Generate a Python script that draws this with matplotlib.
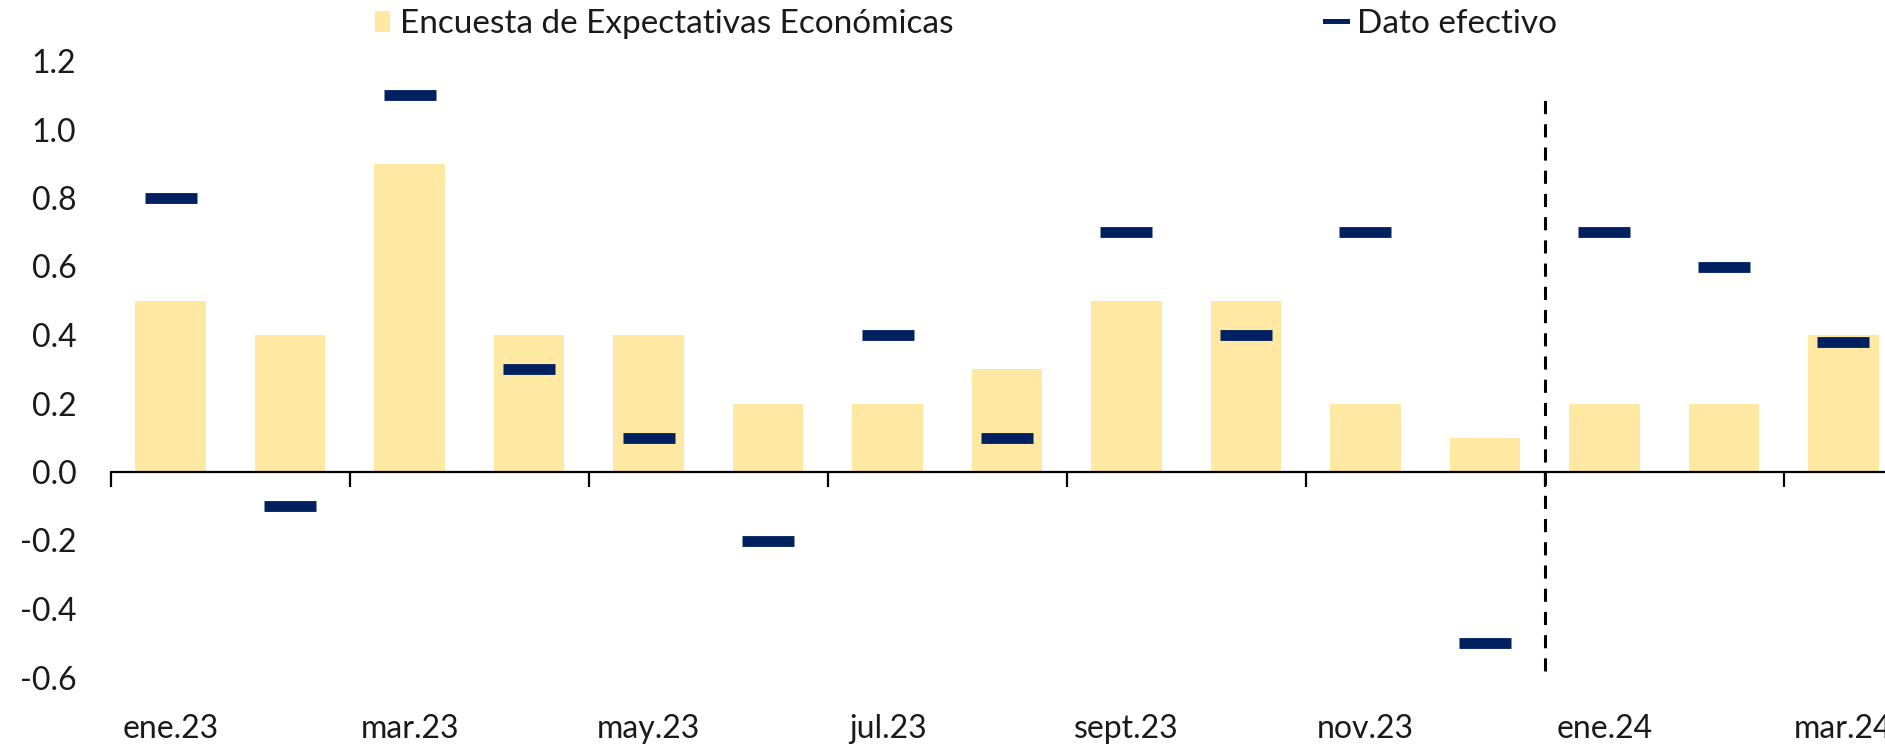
#!/usr/bin/env python3

import matplotlib
matplotlib.use("Agg")
import matplotlib.pyplot as plt
from matplotlib.lines import Line2D
from matplotlib.patches import Patch
import numpy as np

plt.rcParams['font.family'] = ['Lato', 'DejaVu Sans']

# Months (labels every second month on the axis)
months = ["ene.23", "feb.23", "mar.23", "abr.23", "may.23", "jun.23",
          "jul.23", "ago.23", "sept.23", "oct.23", "nov.23", "dic.23",
          "ene.24", "feb.24", "mar.24"]

# Survey expectation (bars)
encuesta = [0.5, 0.4, 0.9, 0.4, 0.4, 0.2, 0.2, 0.3, 0.5, 0.5, 0.2, 0.1, 0.2, 0.2, 0.4]

# Actual value (dash markers)
dato = [0.8, -0.1, 1.1, 0.3, 0.1, -0.2, 0.4, 0.1, 0.7, 0.4, 0.7, -0.5, 0.7, 0.6, 0.38]

# Vertical separator between 2023 and 2024
sep_pos = 11.5
sep_range = [-0.58, 1.09]

BAR_COLOR = "#FFE8A1"
DASH_COLOR = "#002060"
TEXT_COLOR = "#1a1a1a"

W, H, DPI = 1885, 745, 100
fig = plt.figure(figsize=(W / DPI, H / DPI), dpi=DPI)

# axes spans past the right edge, like the clipped original
left_px, right_px = 111, 1903
top_px, bottom_px = 61, 677.5
ax = fig.add_axes([left_px / W, 1 - bottom_px / H,
                   (right_px - left_px) / W, (bottom_px - top_px) / H])

x = np.arange(len(months))
ax.bar(x, encuesta, width=0.59, color=BAR_COLOR, zorder=2)
ax.plot(x, dato, linestyle="none", marker="_", markersize=38,
        markeredgewidth=7.8, color=DASH_COLOR, zorder=4)
ax.vlines(sep_pos, sep_range[0], sep_range[1], colors="black",
          linewidth=2.2, linestyles=(0, (4.3, 3.3)), zorder=5)

ax.set_xlim(-0.5, len(months) - 0.5)
ax.set_ylim(-0.6, 1.2)

for s in ["left", "right", "bottom"]:
    ax.spines[s].set_visible(False)
# zero line drawn with the top spine so it can carry the tick marks
ax.spines["top"].set_position(("data", 0))
ax.spines["top"].set_linewidth(1.6)
ax.spines["top"].set_zorder(3)

ax.set_xticks(x[::2])
ax.set_xticklabels(months[::2])
ax.set_xticks(np.arange(-0.5, len(months) - 1, 2), minor=True)
ax.tick_params(axis="x", which="major", bottom=True, top=False, length=0,
               labelsize=23, pad=26, labelcolor=TEXT_COLOR)
ax.tick_params(axis="x", which="minor", bottom=False, top=True,
               direction="in", length=11, width=1.6)

yt = np.arange(-0.6, 1.21, 0.2)
ax.set_yticks(yt)
ax.set_yticklabels(["%.1f" % v for v in yt])
ax.tick_params(axis="y", length=0, labelsize=23, pad=25, labelcolor=TEXT_COLOR)

# legends, spread over the top as in the original
h1 = Patch(facecolor=BAR_COLOR, edgecolor="none")
fig.legend([h1], ["Encuesta de Expectativas Económicas"],
           loc="center left", bbox_to_anchor=(375 / W, 1 - 24 / H),
           frameon=False, fontsize=24, borderpad=0, borderaxespad=0,
           handlelength=0.45, handleheight=0.6, handletextpad=0.3,
           labelcolor=TEXT_COLOR)
h2 = Line2D([], [], color=DASH_COLOR, linewidth=3.6)
fig.legend([h2], ["Dato efectivo"],
           loc="center left", bbox_to_anchor=(1325 / W, 1 - 24 / H),
           frameon=False, fontsize=24, borderpad=0, borderaxespad=0,
           handlelength=0.65, handletextpad=0.3, labelcolor=TEXT_COLOR)

fig.savefig("out.png", dpi=DPI)
